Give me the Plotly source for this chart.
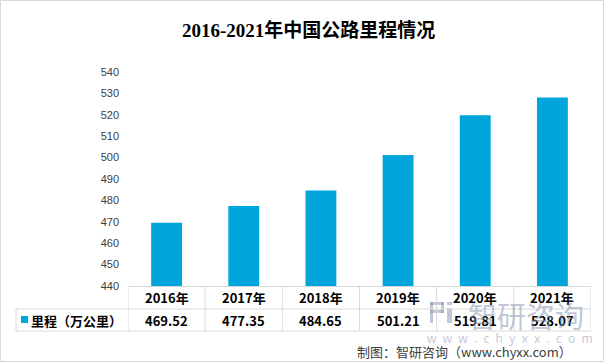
import plotly.graph_objects as go

# ---- data ----
categories = ["2016年", "2017年", "2018年", "2019年", "2020年", "2021年"]
values = [469.52, 477.35, 484.65, 501.21, 519.81, 528.07]
series_name = "里程（万公里）"
y_ticks = [440, 450, 460, 470, 480, 490, 500, 510, 520, 530, 540]
title_text = "2016-2021年中国公路里程情况"
source_text = "制图：智研咨询（www.chyxx.com）"

BAR_COLOR = "#00a5dc"
GRID = "#d9d9d9"

W, H = 605, 363
L, R, T, B = 128, 14, 72, 77
pw = W - L - R
ph = H - T - B


def px(x):
    return (x - L) / pw


def py(y):
    return (H - B - y) / ph


fig = go.Figure()
fig.add_trace(go.Bar(x=categories, y=values, width=0.4,
                     marker=dict(color=BAR_COLOR, line=dict(width=0)),
                     name=series_name, showlegend=False, hoverinfo="x+y"))

shapes = []
line_style = dict(color=GRID, width=1)
n = len(categories)
# vertical table lines at category boundaries
for i in range(n + 1):
    shapes.append(dict(type="line", xref="x", yref="paper",
                       x0=i - 0.5, x1=i - 0.5, y0=py(286), y1=py(331), line=line_style))
# left border of legend cell
shapes.append(dict(type="line", xref="paper", yref="paper",
                   x0=px(16), x1=px(16), y0=py(309), y1=py(331), line=line_style))
# horizontal table lines
for yy in (309, 331):
    shapes.append(dict(type="line", xref="paper", yref="paper",
                       x0=px(16), x1=1, y0=py(yy), y1=py(yy), line=line_style))
# outer frame
shapes.append(dict(type="rect", xref="paper", yref="paper",
                   x0=px(0.5), x1=px(603.5), y0=py(0.5), y1=py(361.5),
                   line=dict(color=GRID, width=1), fillcolor="rgba(0,0,0,0)"))
# legend marker square
shapes.append(dict(type="rect", xref="paper", yref="paper",
                   x0=px(21), x1=px(28), y0=py(316), y1=py(323),
                   line=dict(width=0), fillcolor=BAR_COLOR))
# watermark logo (approximation)
wm = "rgba(130,145,175,0.5)"
for (x0, y0, x1, y1) in [(430, 302, 444, 305), (441, 302, 444, 313), (430, 310, 444, 313),
                         (430, 302, 433, 323), (447, 302, 452, 305), (447, 308, 452, 323)]:
    shapes.append(dict(type="rect", xref="paper", yref="paper",
                       x0=px(x0), x1=px(x1), y0=py(y0), y1=py(y1),
                       line=dict(width=0), fillcolor=wm, layer="below"))

annotations = []
tbl_font = dict(family="Noto Sans CJK SC, sans-serif", size=13, color="#000000")
for i, (c, v) in enumerate(zip(categories, values)):
    annotations.append(dict(x=c, xref="x", y=py(297), yref="paper", text="<b>%s</b>" % c,
                            showarrow=False, font=tbl_font, xanchor="center", yanchor="middle"))
    annotations.append(dict(x=c, xref="x", y=py(320), yref="paper", text="<b>%.2f</b>" % v,
                            showarrow=False, font=tbl_font, xanchor="center", yanchor="middle"))
annotations.append(dict(x=px(29), xref="paper", y=py(320), yref="paper",
                        text="<b>%s</b>" % series_name,
                        showarrow=False, font=tbl_font, xanchor="left", yanchor="middle"))
# title
annotations.append(dict(x=px(308), xref="paper", y=py(30), yref="paper",
                        text="<b>%s</b>" % title_text, showarrow=False,
                        font=dict(family="Liberation Serif, Noto Sans CJK SC, serif", size=19, color="#000000"),
                        xanchor="center", yanchor="middle"))
# watermark text
annotations.append(dict(x=px(526), xref="paper", y=py(315), yref="paper", text="智研咨询",
                        showarrow=False, font=dict(family="Noto Sans CJK SC", size=29, color=wm),
                        xanchor="center", yanchor="middle"))
annotations.append(dict(x=px(510), xref="paper", y=py(338), yref="paper",
                        text="w  w  w  .  c  h  y  x  x  .  c  o  m",
                        showarrow=False, font=dict(family="Noto Sans", size=12, color=wm),
                        xanchor="center", yanchor="middle"))
# source
annotations.append(dict(x=px(574), xref="paper", y=py(351), yref="paper", text=source_text,
                        showarrow=False, font=dict(family="Noto Sans CJK SC", size=13, color="#404040"),
                        xanchor="right", yanchor="middle"))

fig.update_layout(
    width=W, height=H,
    margin=dict(l=L, r=R, t=T, b=B),
    paper_bgcolor="white", plot_bgcolor="white",
    showlegend=False,
    bargap=0.6,
    xaxis=dict(showticklabels=False, showline=True, linecolor=GRID, linewidth=1,
               ticks="", showgrid=False, zeroline=False, range=[-0.5, n - 0.5]),
    yaxis=dict(range=[440, 540], tickvals=y_ticks, showgrid=False, zeroline=False,
               showline=False, ticks="", ticklabelstandoff=8,
               tickfont=dict(family="Liberation Sans, Arial", size=11, color="#404040")),
    shapes=shapes,
    annotations=annotations,
)

fig.write_html("out.html", config={"displayModeBar": False},
               post_script="document.body.style.margin='0';document.body.style.overflow='hidden';")
